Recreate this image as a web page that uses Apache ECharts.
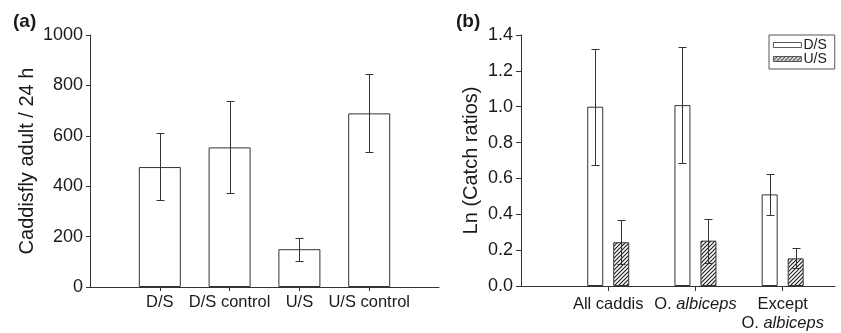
<!DOCTYPE html>
<html>
<head>
<meta charset="utf-8">
<script src="https://cdn.jsdelivr.net/npm/echarts@6/dist/echarts.min.js"></script>
<style>
  html, body { margin: 0; padding: 0; background: #fff; }
  #chart { width: 841px; height: 333px; }
</style>
</head>
<body>
<div id="chart"></div>
<script>
// panel (a): caddisfly adults per 24 h
const catA = ['D/S', 'D/S control', 'U/S', 'U/S control'];
const meanA = [476, 554, 150, 689];
const lowA = [344, 372, 103, 534];
const highA = [610, 737, 193, 846];

// panel (b): Ln(catch ratios)
const catB = ['All caddis', 'O. {i|albiceps}', 'Except\nO. {i|albiceps}'];
const dsMean = [1.000, 1.009, 0.511];
const dsLow = [0.677, 0.684, 0.394];
const dsHigh = [1.323, 1.335, 0.626];
const usMean = [0.244, 0.253, 0.154];
const usLow = [0.121, 0.130, 0.099];
const usHigh = [0.366, 0.374, 0.210];

const FONT = 'Liberation Sans, Arial, Helvetica, sans-serif';
const INK = '#1a1a1a';
const LINE = '#333';

// slot layout of the category axes (first slot is the origin, empty)
const slotsA = 6, posA = [1, 2, 3, 4];
const slotsB = 19, posB = [5, 10, 15];

function slotArray(n, pos, vals) {
  const arr = new Array(n).fill(null);
  pos.forEach((p, i) => { arr[p] = vals[i]; });
  return arr;
}
function slotNames(n) {
  const arr = [];
  for (let i = 0; i < n; i++) arr.push('s' + i);
  return arr;
}
function errData(pos, lo, hi) {
  return pos.map((p, i) => [p, lo[i], hi[i]]);
}

// hatch pattern for U/S bars
const hatch = document.createElement('canvas');
hatch.width = 4; hatch.height = 4;
const hc = hatch.getContext('2d');
hc.fillStyle = '#fff';
hc.fillRect(0, 0, 4, 4);
hc.strokeStyle = '#222';
hc.lineWidth = 1.2;
hc.beginPath();
hc.moveTo(0, 4); hc.lineTo(4, 0);
hc.moveTo(-1, 1); hc.lineTo(1, -1);
hc.moveTo(3, 5); hc.lineTo(5, 3);
hc.stroke();

function errRender(dx, cap) {
  return function (params, api) {
    const x = api.value(0);
    const lo = api.coord([x, api.value(1)]);
    const hi = api.coord([x, api.value(2)]);
    const cx = Math.round(lo[0] + dx) + 0.5;
    const y1 = Math.round(lo[1]) + 0.5, y2 = Math.round(hi[1]) + 0.5;
    const st = { stroke: LINE, lineWidth: 1 };
    return {
      type: 'group',
      children: [
        { type: 'line', shape: { x1: cx, y1: y1, x2: cx, y2: y2 }, style: st },
        { type: 'line', shape: { x1: cx - cap, y1: y1, x2: cx + cap, y2: y1 }, style: st },
        { type: 'line', shape: { x1: cx - cap, y1: y2, x2: cx + cap, y2: y2 }, style: st }
      ]
    };
  };
}

const chart = echarts.init(document.getElementById('chart'), null, { renderer: 'canvas' });

const yLabel = { color: INK, fontSize: 18, fontFamily: FONT };
const axisLine = { lineStyle: { color: LINE, width: 1 } };

const option = {
  animation: false,
  backgroundColor: '#fff',
  title: [
    { text: '(a)', left: 8, top: 7, textStyle: { fontSize: 19, fontWeight: 'bold', color: INK, fontFamily: FONT } },
    { text: '(b)', left: 451, top: 7, textStyle: { fontSize: 19, fontWeight: 'bold', color: INK, fontFamily: FONT } }
  ],
  legend: {
    data: ['D/S', 'U/S'],
    orient: 'vertical',
    left: 769, top: 35,
    icon: 'rect',
    itemWidth: 28, itemHeight: 5, itemGap: 0,
    padding: [3, 8, 3, 4],
    borderColor: '#555', borderWidth: 1,
    itemStyle: { borderWidth: 0.8 },
    textStyle: { fontSize: 14, color: INK, fontFamily: FONT, padding: [0, 0, 0, -3], lineHeight: 13 }
  },
  grid: [
    { left: 90, right: 402, top: 35, bottom: 46 },
    { left: 521, right: 6, top: 35, bottom: 47 }
  ],
  xAxis: [
    {
      type: 'category', gridIndex: 0, data: slotNames(slotsA), boundaryGap: false,
      axisLine: axisLine,
      axisTick: { length: 4, lineStyle: { color: LINE }, interval: (i) => posA.indexOf(i) >= 0 },
      axisLabel: {
        interval: 0, margin: 7, color: INK, fontSize: 16.5, fontFamily: FONT,
        formatter: (v, i) => { const k = posA.indexOf(i); return k >= 0 ? catA[k] : ''; }
      }
    },
    {
      type: 'category', gridIndex: 1, data: slotNames(slotsB), boundaryGap: false,
      axisLine: axisLine,
      axisTick: { length: 5, lineStyle: { color: LINE }, interval: (i) => posB.indexOf(i) >= 0 },
      axisLabel: {
        interval: 0, margin: 9, color: INK, fontSize: 16.5, fontFamily: FONT, lineHeight: 19,
        formatter: (v, i) => { const k = posB.indexOf(i); return k >= 0 ? catB[k] : ''; },
        rich: { i: { fontStyle: 'italic', fontSize: 16.5, fontFamily: FONT, color: INK, lineHeight: 19 } }
      }
    }
  ],
  yAxis: [
    {
      type: 'value', gridIndex: 0, min: 0, max: 1000, interval: 200,
      name: 'Caddisfly adult / 24 h', nameLocation: 'middle', nameGap: 53,
      nameTextStyle: { fontSize: 20, color: INK, fontFamily: FONT },
      axisLine: { show: true, lineStyle: { color: LINE, width: 1 } },
      axisTick: { show: true, length: 4, lineStyle: { color: LINE } },
      axisLabel: Object.assign({ margin: 7, formatter: (v) => String(v) }, yLabel),
      splitLine: { show: false }
    },
    {
      type: 'value', gridIndex: 1, min: 0, max: 1.4, interval: 0.2,
      name: 'Ln (Catch ratios)', nameLocation: 'middle', nameGap: 40,
      nameTextStyle: { fontSize: 20, color: INK, fontFamily: FONT },
      axisLine: { show: true, lineStyle: { color: LINE, width: 1 } },
      axisTick: { show: true, length: 5, lineStyle: { color: LINE } },
      axisLabel: Object.assign({ margin: 8, formatter: (v) => v.toFixed(1) }, yLabel),
      splitLine: { show: false }
    }
  ],
  series: [
    {
      name: 'a', type: 'bar', xAxisIndex: 0, yAxisIndex: 0, barWidth: 42,
      data: slotArray(slotsA, posA, meanA),
      itemStyle: { color: '#fff', borderColor: LINE, borderWidth: 1 }
    },
    {
      type: 'custom', xAxisIndex: 0, yAxisIndex: 0, z: 5,
      renderItem: errRender(0, 4), encode: { x: 0, y: [1, 2] },
      data: errData(posA, lowA, highA)
    },
    {
      name: 'D/S', type: 'bar', xAxisIndex: 1, yAxisIndex: 1, barWidth: 16, barGap: '62.5%',
      data: slotArray(slotsB, posB, dsMean),
      itemStyle: { color: '#fff', borderColor: LINE, borderWidth: 1 }
    },
    {
      name: 'U/S', type: 'bar', xAxisIndex: 1, yAxisIndex: 1, barWidth: 16, barGap: '62.5%',
      data: slotArray(slotsB, posB, usMean),
      itemStyle: { color: { image: hatch, repeat: 'repeat' }, borderColor: LINE, borderWidth: 1 }
    },
    {
      type: 'custom', xAxisIndex: 1, yAxisIndex: 1, z: 5,
      renderItem: errRender(-13, 4), encode: { x: 0, y: [1, 2] },
      data: errData(posB, dsLow, dsHigh)
    },
    {
      type: 'custom', xAxisIndex: 1, yAxisIndex: 1, z: 5,
      renderItem: errRender(13, 4), encode: { x: 0, y: [1, 2] },
      data: errData(posB, usLow, usHigh)
    }
  ]
};

chart.setOption(option);
</script>
</body>
</html>
